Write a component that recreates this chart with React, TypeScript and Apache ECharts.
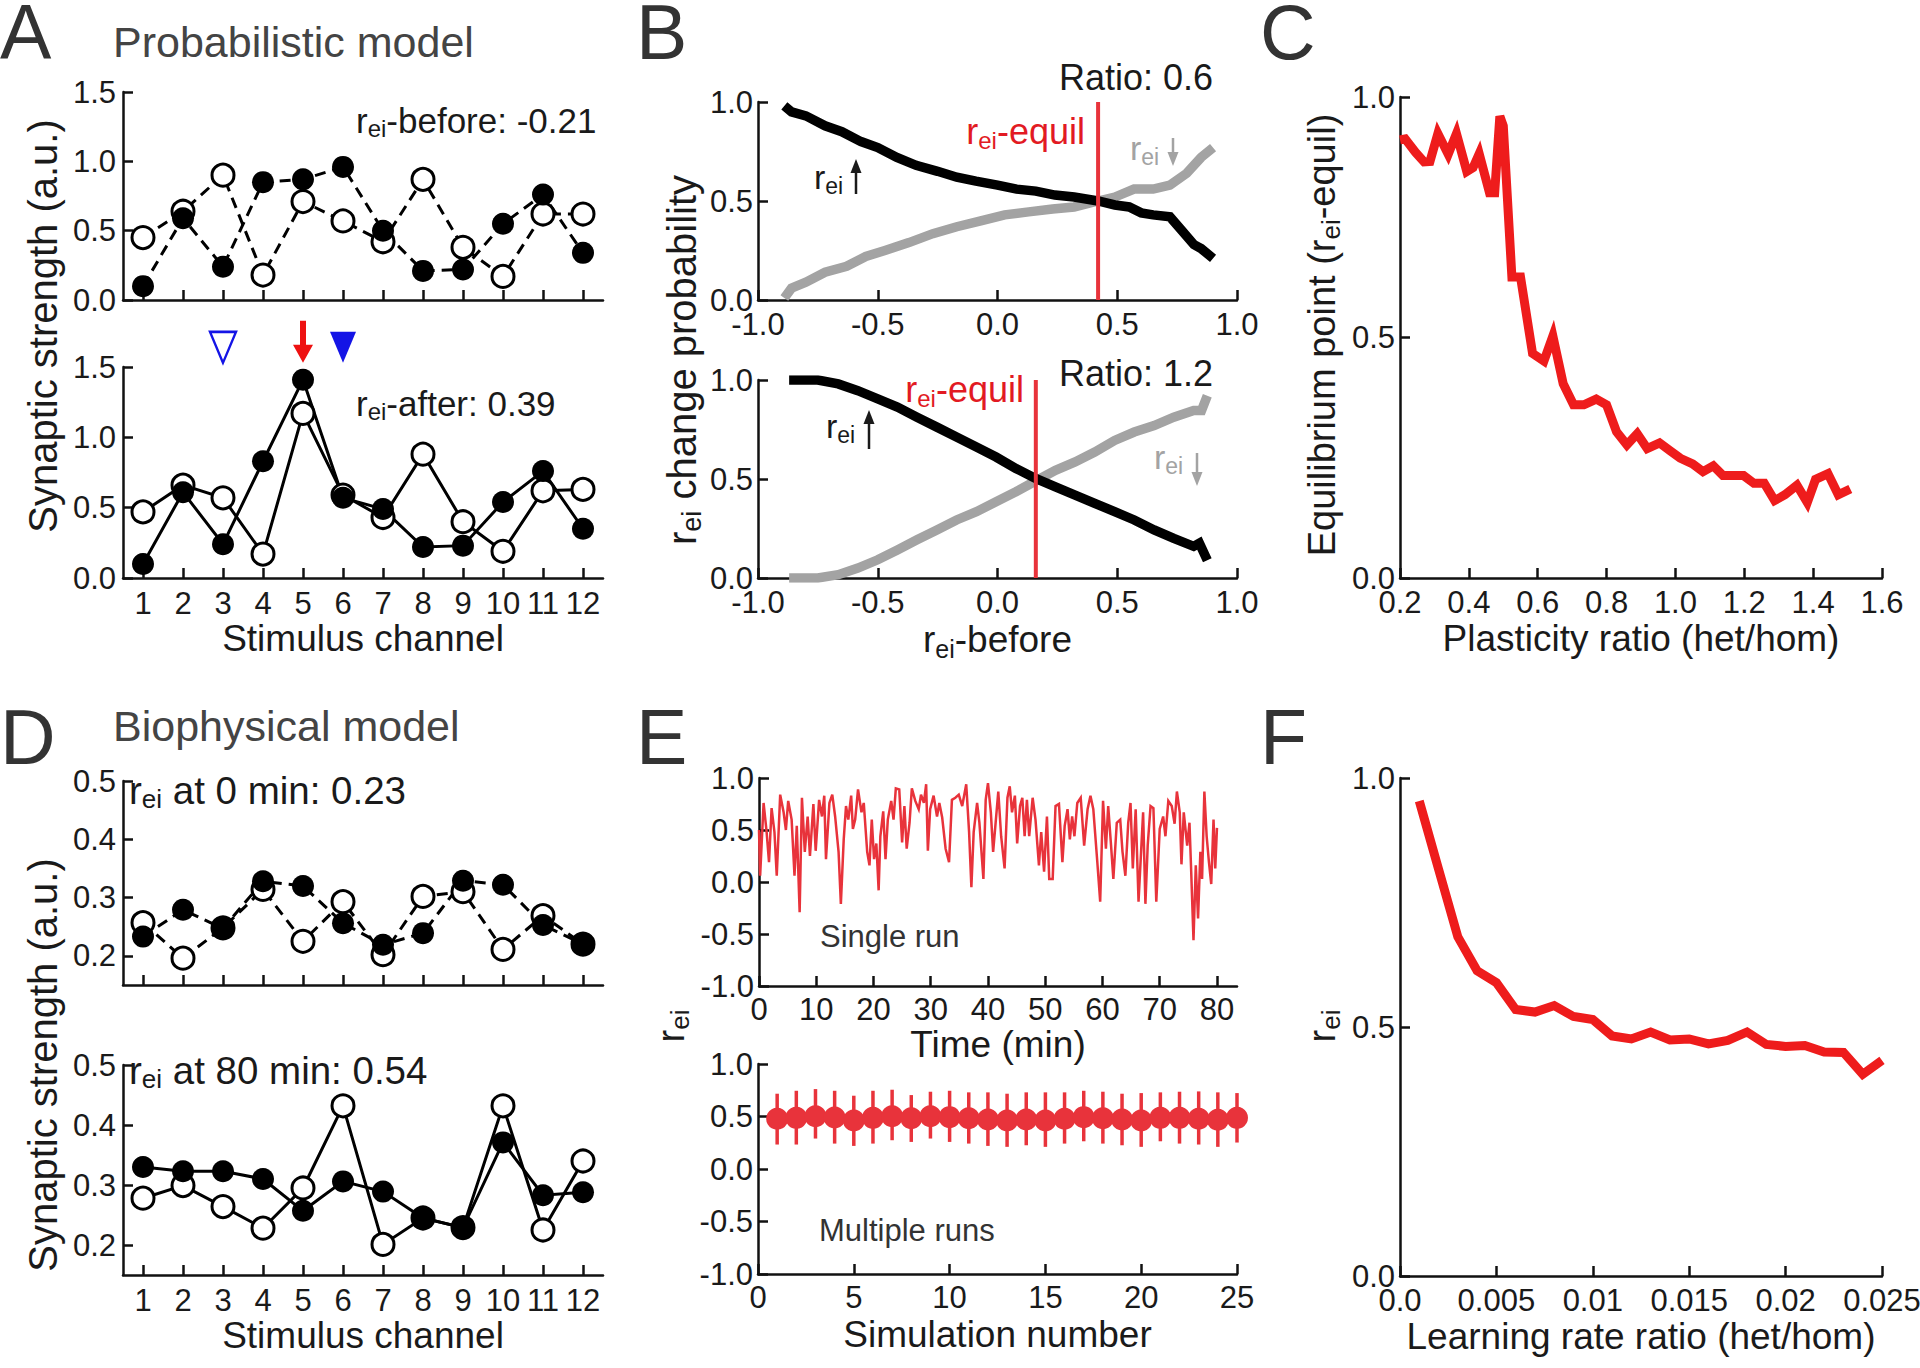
import React, { useEffect, useRef } from 'react';
import * as echarts from 'echarts';

const FONT = '"Liberation Sans", Arial, Helvetica, sans-serif';
const INK = '#111111';
const TXT = '#1a1a1a';
const RED = '#e8333b';
const CURVE_RED = '#ee1c1c';
const GRAY = '#a3a3a3';
const BLUE = '#1414e6';

// ---------- Panel A: probabilistic model ----------
const channels = [1, 2, 3, 4, 5, 6, 7, 8, 9, 10, 11, 12];
const aBeforeFilled = [0.1, 0.59, 0.24, 0.85, 0.87, 0.96, 0.5, 0.21, 0.22, 0.55, 0.76, 0.34];
const aBeforeOpen = [0.45, 0.64, 0.9, 0.18, 0.71, 0.57, 0.42, 0.87, 0.38, 0.17, 0.62, 0.62];
const aAfterFilled = [0.1, 0.61, 0.24, 0.83, 1.41, 0.57, 0.49, 0.22, 0.23, 0.54, 0.76, 0.35];
const aAfterOpen = [0.47, 0.66, 0.57, 0.17, 1.17, 0.59, 0.43, 0.88, 0.4, 0.19, 0.62, 0.63];
const cueOpenChannel = [3];
const cueArrowChannel = [5];
const cueFilledChannel = [6];
const cueLevel = 1.64;

// ---------- Panel B: change probabilities ----------
const bTopUp = [[-0.89, 0.98], [-0.86, 0.95], [-0.8, 0.93], [-0.72, 0.88], [-0.65, 0.85], [-0.57, 0.8], [-0.5, 0.77], [-0.42, 0.72], [-0.34, 0.68], [-0.25, 0.65], [-0.17, 0.62], [-0.09, 0.6], [0.0, 0.58], [0.08, 0.56], [0.16, 0.55], [0.24, 0.53], [0.32, 0.52], [0.42, 0.5], [0.49, 0.48], [0.55, 0.47], [0.6, 0.44], [0.65, 0.43], [0.72, 0.42], [0.77, 0.35], [0.82, 0.28], [0.85, 0.26], [0.9, 0.21]];
const bTopDown = [[-0.89, 0.01], [-0.86, 0.06], [-0.8, 0.09], [-0.72, 0.14], [-0.63, 0.17], [-0.55, 0.22], [-0.47, 0.25], [-0.37, 0.29], [-0.27, 0.335], [-0.17, 0.37], [-0.07, 0.4], [0.03, 0.43], [0.13, 0.445], [0.23, 0.46], [0.32, 0.47], [0.42, 0.5], [0.49, 0.52], [0.57, 0.56], [0.65, 0.56], [0.72, 0.58], [0.79, 0.64], [0.85, 0.72], [0.9, 0.77]];
const bBottomUp = [[-0.87, 1.0], [-0.75, 1.0], [-0.665, 0.98], [-0.583, 0.946], [-0.5, 0.905], [-0.418, 0.863], [-0.336, 0.812], [-0.253, 0.762], [-0.171, 0.712], [-0.088, 0.662], [-0.006, 0.611], [0.077, 0.553], [0.159, 0.503], [0.242, 0.46], [0.324, 0.419], [0.406, 0.377], [0.489, 0.335], [0.571, 0.293], [0.654, 0.243], [0.736, 0.2], [0.819, 0.16], [0.843, 0.176], [0.876, 0.09]];
const bBottomDown = [[-0.87, 0.0], [-0.75, 0.0], [-0.665, 0.017], [-0.583, 0.05], [-0.5, 0.092], [-0.418, 0.142], [-0.336, 0.193], [-0.253, 0.243], [-0.171, 0.293], [-0.088, 0.335], [-0.006, 0.385], [0.077, 0.436], [0.159, 0.49], [0.242, 0.544], [0.324, 0.586], [0.406, 0.636], [0.489, 0.695], [0.571, 0.737], [0.654, 0.77], [0.736, 0.812], [0.819, 0.846], [0.852, 0.846], [0.876, 0.92]];
const bTopEquil = 0.42;
const bBottomEquil = 0.16;

// ---------- Panel C: equilibrium vs plasticity ratio ----------
const cRatio = [0.2, 0.215, 0.245, 0.27, 0.287, 0.31, 0.34, 0.364, 0.394, 0.412, 0.43, 0.46, 0.475, 0.49, 0.5, 0.525, 0.55, 0.585, 0.618, 0.644, 0.674, 0.704, 0.734, 0.77, 0.8, 0.829, 0.859, 0.889, 0.918, 0.954, 0.984, 1.014, 1.05, 1.08, 1.11, 1.138, 1.169, 1.198, 1.228, 1.258, 1.288, 1.318, 1.353, 1.383, 1.407, 1.443, 1.473, 1.508];
const cEquil = [0.911, 0.913, 0.885, 0.865, 0.866, 0.924, 0.881, 0.924, 0.845, 0.853, 0.882, 0.801, 0.801, 0.96, 0.94, 0.626, 0.626, 0.467, 0.451, 0.503, 0.404, 0.36, 0.36, 0.372, 0.36, 0.304, 0.277, 0.3, 0.269, 0.281, 0.265, 0.249, 0.237, 0.221, 0.233, 0.213, 0.213, 0.213, 0.197, 0.197, 0.161, 0.173, 0.193, 0.157, 0.205, 0.217, 0.173, 0.185];

// ---------- Panel D: biophysical model ----------
const dStartFilled = [0.233, 0.279, 0.247, 0.328, 0.32, 0.256, 0.219, 0.239, 0.329, 0.322, 0.253, 0.22];
const dStartOpen = [0.257, 0.196, 0.248, 0.314, 0.225, 0.293, 0.202, 0.302, 0.31, 0.211, 0.269, 0.22];
const dEndFilled = [0.33, 0.323, 0.323, 0.31, 0.257, 0.306, 0.289, 0.245, 0.229, 0.371, 0.283, 0.288];
const dEndOpen = [0.278, 0.299, 0.264, 0.228, 0.295, 0.432, 0.201, 0.245, 0.229, 0.432, 0.225, 0.34];

// ---------- Panel E: single run & multiple runs ----------
const e1Time = [0, 0.2, 0.8, 1.3, 1.75, 2.2, 2.7, 3.1, 3.7, 4.3, 4.7, 5.1, 5.7, 6.2, 6.6, 7.1, 7.5, 8.0, 8.5, 8.9, 9.5, 9.9, 10.5, 11.0, 11.4, 11.7, 12.3, 12.8, 13.3, 13.9, 14.3, 14.8, 15.2, 15.6, 16.1, 16.4, 16.8, 17.3, 17.9, 18.3, 18.9, 19.3, 19.7, 20.1, 20.5, 20.9, 21.2, 21.7, 22.1, 22.5, 23.1, 23.5, 23.9, 24.5, 25.0, 25.4, 25.8, 26.3, 26.7, 27.3, 27.9, 28.3, 28.8, 29.2, 29.5, 29.9, 30.5, 31.1, 31.5, 32.0, 32.6, 33.2, 33.7, 34.3, 34.9, 35.5, 36.2, 36.7, 37.1, 37.5, 38.1, 38.5, 39.2, 39.6, 40.0, 40.5, 40.9, 41.8, 42.3, 42.9, 43.4, 43.8, 44.2, 44.7, 45.1, 45.6, 46.0, 46.4, 46.8, 47.2, 47.8, 48.3, 48.9, 49.3, 49.8, 50.3, 50.7, 51.3, 51.8, 52.4, 53.0, 53.4, 53.9, 54.3, 54.7, 55.1, 55.6, 56.2, 56.8, 57.4, 57.9, 58.4, 59.1, 59.6, 60.1, 60.6, 61.0, 61.5, 61.9, 62.5, 63.1, 63.5, 64.0, 64.5, 64.9, 65.3, 65.8, 66.3, 66.8, 67.1, 67.5, 67.9, 68.4, 68.9, 69.4, 70.0, 70.6, 71.0, 71.5, 72.1, 72.6, 73.0, 73.5, 73.8, 74.2, 74.8, 75.2, 75.5, 75.9, 76.3, 76.7, 77.1, 77.4, 77.8, 78.2, 78.6, 79.0, 79.4, 79.7, 80.0];
const e1Value = [0.5, 0.06, 0.76, 0.5, 0.19, 0.71, 0.48, 0.06, 0.84, 0.67, 0.5, 0.78, 0.6, 0.06, 0.54, -0.29, 0.81, 0.29, 0.63, 0.25, 0.75, 0.3, 0.79, 0.63, 0.83, 0.22, 0.76, 0.84, 0.63, 0.29, -0.21, 0.41, 0.73, 0.6, 0.83, 0.51, 0.6, 0.89, 0.67, 0.76, 0.29, 0.16, 0.6, 0.22, 0.37, -0.08, 0.44, 0.68, 0.22, 0.6, 0.78, 0.6, 0.9, 0.89, 0.38, 0.73, 0.32, 0.57, 0.9, 0.78, 0.7, 0.84, 0.76, 0.94, 0.3, 0.7, 0.83, 0.63, 0.76, 0.62, 0.32, 0.19, 0.79, 0.81, 0.84, 0.73, 0.94, 0.48, -0.05, 0.48, 0.76, 0.57, 0.03, 0.79, 0.95, 0.67, 0.29, 0.87, 0.44, 0.13, 0.81, 0.92, 0.67, 0.83, 0.37, 0.73, 0.81, 0.44, 0.79, 0.44, 0.81, 0.6, 0.16, 0.48, 0.1, 0.63, 0.03, 0.03, 0.73, 0.75, 0.19, 0.54, 0.7, 0.41, 0.63, 0.44, 0.76, 0.81, 0.35, 0.7, 0.83, 0.7, 0.19, -0.19, 0.78, 0.32, 0.73, 0.35, 0.03, 0.57, 0.6, 0.29, 0.06, 0.57, 0.76, 0.13, 0.7, -0.19, 0.35, 0.67, -0.21, 0.35, 0.73, 0.71, -0.19, 0.51, 0.63, 0.44, 0.78, 0.73, 0.56, 0.87, 0.67, 0.17, 0.67, 0.35, 0.57, 0.1, -0.56, 0.16, -0.35, 0.29, 0.03, 0.87, 0.44, 0.19, -0.02, 0.6, 0.13, 0.52];
const runNumber = [1, 2, 3, 4, 5, 6, 7, 8, 9, 10, 11, 12, 13, 14, 15, 16, 17, 18, 19, 20, 21, 22, 23, 24, 25];
const runMean = [0.478, 0.487, 0.503, 0.49, 0.462, 0.487, 0.503, 0.484, 0.503, 0.494, 0.484, 0.472, 0.462, 0.472, 0.462, 0.478, 0.494, 0.484, 0.472, 0.462, 0.487, 0.487, 0.478, 0.469, 0.487];
const runHigh = [0.717, 0.745, 0.761, 0.745, 0.698, 0.745, 0.755, 0.704, 0.736, 0.745, 0.73, 0.73, 0.717, 0.73, 0.73, 0.73, 0.745, 0.736, 0.717, 0.723, 0.73, 0.736, 0.739, 0.73, 0.723];
const runLow = [0.233, 0.233, 0.29, 0.242, 0.22, 0.242, 0.274, 0.258, 0.29, 0.258, 0.242, 0.22, 0.211, 0.226, 0.211, 0.242, 0.264, 0.242, 0.226, 0.211, 0.264, 0.242, 0.233, 0.211, 0.252];

// ---------- Panel F: learning rate ratio ----------
const fRate = [0.001, 0.002, 0.003, 0.004, 0.005, 0.006, 0.007, 0.008, 0.009, 0.01, 0.011, 0.012, 0.013, 0.014, 0.015, 0.016, 0.017, 0.018, 0.019, 0.02, 0.021, 0.022, 0.023, 0.024, 0.025];
const fRei = [0.954, 0.817, 0.681, 0.613, 0.589, 0.535, 0.53, 0.543, 0.521, 0.515, 0.482, 0.476, 0.49, 0.474, 0.476, 0.466, 0.473, 0.49, 0.465, 0.461, 0.463, 0.45, 0.449, 0.405, 0.433];

// ---------- tick lists ----------
const halfTicks15 = [0, 0.5, 1.0, 1.5];
const dTicks = [0.2, 0.3, 0.4, 0.5];
const cTicks = [0.2, 0.4, 0.6, 0.8, 1.0, 1.2, 1.4, 1.6];
const fTicks = [0, 0.005, 0.01, 0.015, 0.02, 0.025];
const timeTicks = [0, 10, 20, 30, 40, 50, 60, 70, 80];

const pairs = (xs: number[], ys: number[]) => xs.map((x, i) => [x, ys[i]]);

function richStyles(size: number, color: string) {
  const sub = Math.round(size * 0.68);
  return {
    n: { fontSize: size, fontFamily: FONT, color, fill: color, lineHeight: size + 6 },
    s: { fontSize: sub, fontFamily: FONT, color, fill: color, lineHeight: Math.round(size * 0.5 + 6), verticalAlign: 'bottom' },
  };
}

function gText(x: number, y: number, text: string, size: number, color: string, opts: any = {}) {
  const style: any = {
    text,
    fill: color,
    fontSize: size,
    fontFamily: FONT,
    align: opts.align || 'left',
    verticalAlign: opts.vAlign || 'middle',
    rich: richStyles(size, color),
  };
  if (opts.lineHeight) style.lineHeight = opts.lineHeight;
  return {
    type: 'text',
    x,
    y,
    rotation: opts.rotation || 0,
    z: 100,
    style,
  };
}

function arrow(x: number, yTail: number, yTip: number, color: string) {
  const dir = yTip < yTail ? -1 : 1;
  const headH = 14;
  const headW = 11;
  const yBase = yTip - dir * headH;
  return {
    type: 'group',
    z: 100,
    children: [
      { type: 'line', shape: { x1: x, y1: yTail, x2: x, y2: yBase }, style: { stroke: color, lineWidth: 2.5 } },
      { type: 'polygon', shape: { points: [[x - headW / 2, yBase], [x + headW / 2, yBase], [x, yTip]] }, style: { fill: color } },
    ],
  };
}

const fmt1 = (v: number) => v.toFixed(1);

function axis(gridIndex: number, min: number, max: number, o: any = {}) {
  const tickObj: any = { show: true, inside: true, length: 10, lineStyle: { color: INK, width: 2.5 } };
  const labelObj: any = { show: o.labels !== false, fontSize: 31, color: TXT, fontFamily: FONT, margin: o.margin ?? 7 };
  if (o.ticks) {
    tickObj.customValues = o.ticks;
    labelObj.customValues = o.ticks;
  }
  if (o.fmt) labelObj.formatter = o.fmt;
  const a: any = {
    type: 'value',
    gridIndex,
    min,
    max,
    axisLine: { show: true, onZero: false, lineStyle: { color: INK, width: 2.5 } },
    axisTick: tickObj,
    axisLabel: labelObj,
    splitLine: { show: false },
  };
  if (o.interval) a.interval = o.interval;
  if (o.name) {
    a.name = o.name;
    a.nameLocation = 'middle';
    a.nameGap = o.nameGap ?? 42;
    a.nameTextStyle = { fontSize: 37, fontFamily: FONT, color: TXT, rich: richStyles(37, TXT) };
  }
  return a;
}

function lineSeries(ax: number, data: any[], color: string, width: number, extra: any = {}) {
  return {
    type: 'line',
    xAxisIndex: ax,
    yAxisIndex: ax,
    data,
    showSymbol: false,
    symbol: 'none',
    silent: true,
    lineStyle: { color, width, join: 'miter', ...(extra.lineStyle || {}) },
    z: extra.z ?? 2,
  };
}

function dotSeries(ax: number, data: any[], open: boolean, z: number) {
  return {
    type: 'scatter',
    xAxisIndex: ax,
    yAxisIndex: ax,
    data,
    symbol: 'circle',
    symbolSize: 22,
    silent: true,
    itemStyle: open
      ? { color: '#ffffff', borderColor: '#000000', borderWidth: 3, opacity: 1 }
      : { color: '#000000', borderWidth: 0, opacity: 1 },
    z,
  };
}

function channelPanel(ax: number, openVals: number[], filledVals: number[], dashed: boolean) {
  const ls = dashed ? { type: [11, 7] } : { type: 'solid' };
  return [
    lineSeries(ax, pairs(channels, openVals), '#000', 3, { lineStyle: ls }),
    lineSeries(ax, pairs(channels, filledVals), '#000', 3, { lineStyle: ls }),
    dotSeries(ax, pairs(channels, openVals), true, 3),
    dotSeries(ax, pairs(channels, filledVals), false, 4),
  ];
}

function buildOption() {
  const grids = [
    { left: 123, top: 92, width: 480, height: 208 },
    { left: 123, top: 367, width: 480, height: 211 },
    { left: 758, top: 102, width: 479, height: 198 },
    { left: 758, top: 380, width: 479, height: 198 },
    { left: 1400, top: 97, width: 482, height: 481 },
    { left: 123, top: 781, width: 480, height: 204 },
    { left: 123, top: 1065, width: 480, height: 210 },
    { left: 759, top: 778, width: 478, height: 208 },
    { left: 758, top: 1064, width: 479, height: 210 },
    { left: 1400, top: 778, width: 482, height: 498 },
  ].map((g) => ({ ...g, containLabel: false, outerBoundsMode: 'none', show: false }));

  const fmtF = (v: number) => (v === 0 ? '0.0' : String(+v.toFixed(3)));

  const xAxis = [
    axis(0, 0.5, 12.5, { ticks: channels, labels: false }),
    axis(1, 0.5, 12.5, { ticks: channels, name: 'Stimulus channel', margin: 10 }),
    axis(2, -1, 1, { interval: 0.5, fmt: fmt1, margin: 9 }),
    axis(3, -1, 1, { interval: 0.5, fmt: fmt1, margin: 9, name: '{n|r}{s|ei}{n|-before}', nameGap: 40 }),
    axis(4, 0.2, 1.6, { ticks: cTicks, fmt: fmt1, margin: 9, name: 'Plasticity ratio (het/hom)' }),
    axis(5, 0.5, 12.5, { ticks: channels, labels: false }),
    axis(6, 0.5, 12.5, { ticks: channels, name: 'Stimulus channel', margin: 10 }),
    axis(7, 0, 83.5, { ticks: timeTicks, margin: 8, name: 'Time (min)', nameGap: 40 }),
    axis(8, 0, 25, { interval: 5, margin: 8, name: 'Simulation number' }),
    axis(9, 0, 0.025, { ticks: fTicks, fmt: fmtF, margin: 9, name: 'Learning rate ratio (het/hom)' }),
  ];
  const yAxis = [
    axis(0, 0, 1.5, { ticks: halfTicks15, fmt: fmt1 }),
    axis(1, 0, 1.5, { ticks: halfTicks15, fmt: fmt1 }),
    axis(2, 0, 1, { interval: 0.5, fmt: fmt1, margin: 5 }),
    axis(3, 0, 1, { interval: 0.5, fmt: fmt1, margin: 5 }),
    axis(4, 0, 1, { interval: 0.5, fmt: fmt1, margin: 5 }),
    axis(5, 0.15, 0.5, { ticks: dTicks, fmt: fmt1 }),
    axis(6, 0.15, 0.5, { ticks: dTicks, fmt: fmt1 }),
    axis(7, -1, 1, { interval: 0.5, fmt: fmt1, margin: 5 }),
    axis(8, -1, 1, { interval: 0.5, fmt: fmt1, margin: 5 }),
    axis(9, 0, 1, { interval: 0.5, fmt: fmt1, margin: 5 }),
  ];

  const series: any[] = [
    ...channelPanel(0, aBeforeOpen, aBeforeFilled, true),
    ...channelPanel(1, aAfterOpen, aAfterFilled, false),
    {
      type: 'scatter', xAxisIndex: 1, yAxisIndex: 1, clip: false, silent: true, z: 5,
      data: cueOpenChannel.map((c) => [c, cueLevel]),
      symbol: 'triangle', symbolRotate: 180, symbolSize: [26, 31],
      itemStyle: { color: '#ffffff', borderColor: BLUE, borderWidth: 2.5, opacity: 1 },
    },
    {
      type: 'scatter', xAxisIndex: 1, yAxisIndex: 1, clip: false, silent: true, z: 5,
      data: cueFilledChannel.map((c) => [c, cueLevel]),
      symbol: 'triangle', symbolRotate: 180, symbolSize: [26, 31],
      itemStyle: { color: BLUE, borderWidth: 0, opacity: 1 },
    },
    {
      type: 'scatter', xAxisIndex: 1, yAxisIndex: 1, clip: false, silent: true, z: 5,
      data: cueArrowChannel.map((c) => [c, cueLevel + 0.04]),
      symbol: 'path://M7,0 L13,0 L13,24 L20,24 L10,42 L0,24 L7,24 Z', symbolSize: [20, 42],
      itemStyle: { color: '#ee1111', borderWidth: 0, opacity: 1 },
    },
    // B
    lineSeries(2, bTopDown, GRAY, 9.5, { z: 2 }),
    lineSeries(2, bTopUp, '#000', 9.5, { z: 3 }),
    lineSeries(2, [[bTopEquil, 0], [bTopEquil, 1.0]], RED, 4, { z: 4 }),
    lineSeries(3, bBottomDown, GRAY, 9.5, { z: 2 }),
    lineSeries(3, bBottomUp, '#000', 9.5, { z: 3 }),
    lineSeries(3, [[bBottomEquil, 0], [bBottomEquil, 1.0]], RED, 4, { z: 4 }),
    // C
    lineSeries(4, pairs(cRatio, cEquil), CURVE_RED, 9),
    // D
    ...channelPanel(5, dStartOpen, dStartFilled, true),
    ...channelPanel(6, dEndOpen, dEndFilled, false),
    // E
    lineSeries(7, pairs(e1Time, e1Value), RED, 2.5),
    {
      type: 'custom', xAxisIndex: 8, yAxisIndex: 8, silent: true, z: 2,
      data: runNumber.map((n, i) => [n, runLow[i], runHigh[i]]),
      encode: { x: 0, y: [1, 2] },
      renderItem: (params: any, api: any) => {
        const x = api.value(0);
        const p1 = api.coord([x, api.value(1)]);
        const p2 = api.coord([x, api.value(2)]);
        return {
          type: 'line',
          shape: { x1: p1[0], y1: p1[1], x2: p2[0], y2: p2[1] },
          style: { stroke: RED, lineWidth: 3.5 },
        };
      },
    },
    {
      type: 'scatter', xAxisIndex: 8, yAxisIndex: 8, silent: true, z: 3,
      data: pairs(runNumber, runMean), symbol: 'circle', symbolSize: 22,
      itemStyle: { color: RED, opacity: 1 },
    },
    // F
    lineSeries(9, pairs(fRate, fRei), CURVE_RED, 9),
  ];

  const letterColor = '#333333';
  const titleColor = '#444444';
  const L = { lineHeight: 62, vAlign: 'top' };
  const graphic: any[] = [
    gText(0, 1, 'A', 77, letterColor, L),
    gText(636, 1, 'B', 77, letterColor, L),
    gText(1260, 1, 'C', 77, letterColor, L),
    gText(0, 706, 'D', 77, letterColor, L),
    gText(636, 706, 'E', 77, letterColor, L),
    gText(1260, 706, 'F', 77, letterColor, L),
    gText(113, 42, 'Probabilistic model', 43, titleColor),
    gText(113, 726, 'Biophysical model', 43, titleColor),
    // A annotations
    gText(356, 120, '{n|r}{s|ei}{n|-before: -0.21}', 35, TXT),
    gText(356, 403, '{n|r}{s|ei}{n|-after: 0.39}', 35, TXT),
    gText(43, 326, 'Synaptic strength (a.u.)', 40, TXT, { rotation: Math.PI / 2, align: 'center' }),
    // B annotations
    gText(1213, 77, 'Ratio: 0.6', 36, TXT, { align: 'right' }),
    gText(1213, 373, 'Ratio: 1.2', 36, TXT, { align: 'right' }),
    gText(1085, 131, '{n|r}{s|ei}{n|-equil}', 36, '#e21a23', { align: 'right' }),
    gText(1024, 389, '{n|r}{s|ei}{n|-equil}', 36, '#e21a23', { align: 'right' }),
    gText(814, 177, '{n|r}{s|ei}', 34, TXT),
    arrow(856, 194, 159, TXT),
    gText(1130, 148, '{n|r}{s|ei}', 34, GRAY),
    arrow(1173, 138, 166, GRAY),
    gText(826, 426, '{n|r}{s|ei}', 34, TXT),
    arrow(869, 449, 410, TXT),
    gText(1154, 457, '{n|r}{s|ei}', 34, GRAY),
    arrow(1197, 453, 486, GRAY),
    gText(682, 360, '{n|r}{s|ei}{n| change probability}', 40, TXT, { rotation: Math.PI / 2, align: 'center' }),
    // C
    gText(1322, 335, '{n|Equilibrium point (r}{s|ei}{n|-equil)}', 38, TXT, { rotation: Math.PI / 2, align: 'center' }),
    // D
    gText(129, 790, '{n|r}{s|ei}{n| at 0 min: 0.23}', 38.5, TXT),
    gText(129, 1070, '{n|r}{s|ei}{n| at 80 min: 0.54}', 38.5, TXT),
    gText(43, 1065, 'Synaptic strength (a.u.)', 40, TXT, { rotation: Math.PI / 2, align: 'center' }),
    // E
    gText(820, 936, 'Single run', 31, '#333333'),
    gText(819, 1230, 'Multiple runs', 31, '#333333'),
    gText(671, 1026, '{n|r}{s|ei}', 38, TXT, { rotation: Math.PI / 2, align: 'center' }),
    // F
    gText(1322, 1026, '{n|r}{s|ei}', 38, TXT, { rotation: Math.PI / 2, align: 'center' }),
  ];

  return {
    animation: false,
    backgroundColor: '#ffffff',
    textStyle: { fontFamily: FONT },
    grid: grids,
    xAxis,
    yAxis,
    series,
    graphic,
  };
}

export default function App() {
  const ref = useRef<HTMLDivElement>(null);
  useEffect(() => {
    if (!ref.current) return;
    const chart = echarts.init(ref.current, null, { renderer: 'svg', width: 1920, height: 1368 });
    chart.setOption(buildOption() as any);
    return () => chart.dispose();
  }, []);
  return (
    <div
      ref={ref}
      style={{ position: 'fixed', left: 0, top: 0, width: 1920, height: 1368, background: '#ffffff' }}
    />
  );
}
